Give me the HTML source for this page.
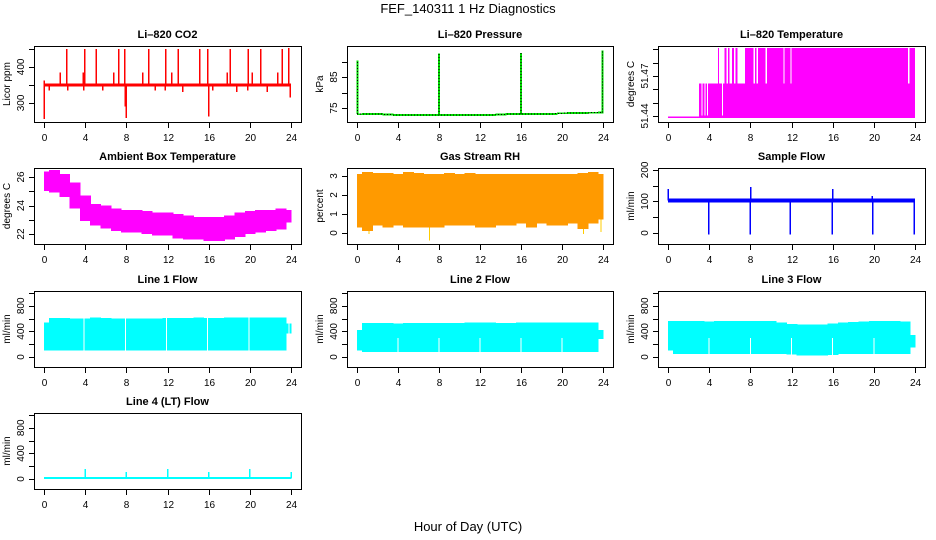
<!DOCTYPE html>
<html><head><meta charset="utf-8"><title>FEF_140311 1 Hz Diagnostics</title>
<style>
html,body{margin:0;padding:0;background:#fff;}
svg{display:block;font-family:"Liberation Sans",Arial,sans-serif;}
</style></head>
<body>
<svg id="fig" width="936" height="540" viewBox="0 0 936 540" xmlns="http://www.w3.org/2000/svg" shape-rendering="crispEdges">
<text x="468" y="13" font-size="13" text-anchor="middle">FEF_140311  1 Hz Diagnostics</text>
<text x="468" y="531" font-size="13" text-anchor="middle">Hour of Day (UTC)</text>
</svg>
<script>
// ---- shared axis data ----
const xTicks = [0,4,8,12,16,20,24];
const hours = [0,1,2,3,4,5,6,7,8,9,10,11,12,13,14,15,16,17,18,19,20,21,22,23,24];

// ---- Li-820 CO2 ----
const co2Base = 350;
const co2BandLo = 346, co2BandHi = 354;
const co2SpikeHours = [0.03,0.05,0.5,1.6,2.2,2.3,3.8,3.85,3.95,5.1,5.7,6.8,7.25,7.85,7.9,8.0,9.6,10.2,10.8,11.8,11.85,12.4,13.05,13.5,15.15,15.9,16.0,16.4,17.8,18.1,18.7,19.8,19.85,20.25,21.05,21.7,22.7,23.15,23.75,23.9];
const co2SpikeValues = [362,255,335,385,450,335,385,335,450,450,335,385,450,450,290,258,385,450,335,335,450,385,450,330,450,450,262,335,385,450,330,335,450,385,450,330,385,450,452,315];

// ---- Li-820 Pressure ----
const presBase = [73.0,73.1,73.1,72.9,72.8,72.8,72.8,72.8,72.8,72.8,72.8,72.8,72.8,72.8,72.9,73.1,73.1,73.1,73.1,73.1,73.3,73.4,73.4,73.5,73.6];
const presSpikeHours = [0.05,8.0,16.0,23.95];
const presSpikeValues = [90.3,92.6,92.8,93.6];

// ---- Li-820 Temperature ----
const tempLevels = [51.4385,51.4645,51.4910];
const tempMidStart = 3.0, tempMidEnd = 24.0;
const tempTopStarts = [4.85,5.5,5.85,6.2,6.55,7.5,8.45,8.75,9.6,11.3,12.0,23.45];
const tempTopEnds   = [4.95,5.7,6.0,6.4,6.75,8.3,8.6,9.5,11.2,11.9,23.3,24.0];
const tempGapHours = [3.3,3.6,3.85,5.3];

// ---- Ambient Box Temperature ----
const ambLo = [25.0,24.9,24.6,23.8,22.9,22.6,22.4,22.2,22.1,22.1,22.0,21.9,21.9,21.7,21.6,21.6,21.5,21.5,21.6,21.8,22.0,22.1,22.2,22.3,22.8];
const ambHi = [26.4,26.5,26.2,25.6,24.7,24.1,24.0,23.8,23.7,23.7,23.6,23.5,23.5,23.4,23.3,23.2,23.2,23.2,23.3,23.5,23.6,23.7,23.7,23.8,23.7];

// ---- Gas Stream RH ----
const rhLo = [0.3,0.1,0.4,0.3,0.4,0.3,0.3,0.3,0.3,0.4,0.4,0.4,0.3,0.3,0.4,0.4,0.5,0.3,0.5,0.4,0.4,0.5,0.2,0.5,0.7];
const rhHi = [3.1,3.2,3.15,3.15,3.1,3.2,3.15,3.1,3.1,3.15,3.1,3.15,3.1,3.1,3.1,3.1,3.1,3.1,3.1,3.1,3.1,3.1,3.15,3.2,3.1];
const rhDipHours = [1.2,7.1,22.1,23.8];
const rhDipValues = [-0.05,-0.4,-0.05,0.05];

// ---- Sample Flow ----
const sfLo = 97, sfHi = 110;
const sfSpikeHours = [0.05,3.95,8.0,8.05,11.9,15.95,16.0,19.85,19.9,23.9];
const sfSpikeValues = [140,-5,-5,145,-5,-5,140,118,-5,-5];

// ---- Line 1 Flow ----
const l1Lo = [100,100,100,100,100,100,100,100,100,100,100,100,100,100,100,100,100,100,100,100,100,100,100,100,370];
const l1Hi = [540,610,610,605,600,615,610,605,600,600,600,605,610,610,610,615,610,610,615,615,615,620,620,615,520];
const l1GapHours = [3.9,7.9,11.9,15.9,19.9,23.8];

// ---- Line 2 Flow ----
const l2Lo = [100,80,80,80,80,80,80,80,80,80,80,80,80,80,80,80,80,80,80,80,80,80,80,80,280];
const l2Hi = [420,530,530,530,525,530,530,530,530,530,535,540,540,540,535,535,540,540,540,540,540,540,540,540,420];
const l2GapHours = [4.0,8.0,12.0,16.0,20.0];

// ---- Line 3 Flow ----
const l3Lo = [100,50,50,50,50,50,50,50,50,50,50,50,40,25,25,25,35,50,50,50,50,50,50,50,150];
const l3Hi = [560,560,560,560,555,560,560,560,560,560,560,540,515,510,510,510,525,540,550,555,560,560,560,555,340];
const l3GapHours = [4.0,8.0,12.0,16.0,20.0];

// ---- Line 4 (LT) Flow ----
const l4Base = 10;
const l4SpikeHours = [4.0,8.0,12.0,16.0,20.0,24.0];
const l4SpikeValues = [160,110,160,110,160,110];

// ---- layout ----
const SVGNS = "http://www.w3.org/2000/svg";
const svg = document.getElementById('fig');
const colX = [[34,301],[347,613],[658,925]];
const rowY = [[46,122],[168,244],[291,367],[413,489]];

function mk(tag, attrs, parent){
  const el = document.createElementNS(SVGNS, tag);
  for (const k in attrs) el.setAttribute(k, attrs[k]);
  parent.appendChild(el);
  return el;
}

function makePanel(cfg){
  const g = mk('g', {}, svg);
  
  
  const [x0,x1] = colX[cfg.col], [y0,y1] = rowY[cfg.row];
  const xs = h => x0 + (h + 0.96) / 25.92 * (x1 - x0);
  const ys = v => y1 - (v - cfg.ylim[0]) / (cfg.ylim[1] - cfg.ylim[0]) * (y1 - y0);
  const p = {g, xs, ys, x0, x1, y0, y1};
  const t = mk('text', {x:(x0+x1)/2, y:y0-8, 'font-size':11, 'font-weight':'bold', 'text-anchor':'middle'}, g);
  t.textContent = cfg.title;
  
  
  const m = mk('g', {}, g);
  
  
  p.m = m;
  cfg.draw(p);
  const box = mk('rect', {x:x0+0.5, y:y0+0.5, width:x1-x0, height:y1-y0, fill:'none', stroke:'#000', 'stroke-width':1}, g);
  
  
  const xa = mk('g', {}, g);
  
  
  xTicks.forEach(h => {
    const x = Math.round(xs(h)) + 0.5;
    mk('line', {x1:x, x2:x, y1:y1+1, y2:y1+6, stroke:'#000'}, xa);
    const tl = mk('text', {x:x, y:y1+19, 'font-size':10, 'text-anchor':'middle'}, xa);
    tl.textContent = h;
    
    
  });
  const ya = mk('g', {}, g);
  
  
  cfg.yTicks.forEach(v => {
    const y = Math.round(ys(v)) + 0.5;
    mk('line', {x1:x0-5, x2:x0, y1:y, y2:y, stroke:'#000'}, ya);
  });
  cfg.yLabels.forEach(v => {
    const y = ys(v);
    const tl = mk('text', {x:0, y:0, 'font-size':10, 'text-anchor':'middle', transform:`translate(${x0-10},${y}) rotate(-90)`}, ya);
    tl.textContent = v;
    
    
  });
  const yl = mk('text', {x:0, y:0, 'font-size':10, 'text-anchor':'middle', transform:`translate(${x0-24},${(y0+y1)/2}) rotate(-90)`}, ya);
  yl.textContent = cfg.ylab;
  
  
}

// step band: each hourly bin drawn as a rectangle
function band(p, hrs, lo, hi, fill, name){
  hrs.forEach((h,i) => {
    const a = Math.max(0, h - 0.5), b = Math.min(24, h + 0.5);
    const el = mk('rect', {x:p.xs(a), y:p.ys(hi[i]), width:p.xs(b)-p.xs(a)+0.6, height:p.ys(lo[i])-p.ys(hi[i]), fill:fill}, p.m);
    
    
  });
}
function vline(p, h, v1, v2, color, w, name){
  const x = p.xs(h);
  const el = mk('line', {x1:x, x2:x, y1:p.ys(v1), y2:p.ys(v2), stroke:color, 'stroke-width':w}, p.m);
  
  
  return el;
}
function rectH(p, h1, h2, v1, v2, fill, name){
  const el = mk('rect', {x:p.xs(h1), y:p.ys(v2), width:Math.max(1,p.xs(h2)-p.xs(h1)), height:Math.max(1,p.ys(v1)-p.ys(v2)), fill:fill}, p.m);
  
  
  return el;
}

const flowTicks = [0,200,400,600,800,1000], flowLabels = [0,400,800];

makePanel({name:'co2', title:'Li\u2013820 CO2', col:0, row:0, ylim:[247,458], yTicks:[300,350,400,450], yLabels:[300,400], ylab:'Licor ppm',
  draw:p => {
    rectH(p, 0, 24, co2BandLo, co2BandHi, '#ff0000', 'co2-baseline');
    co2SpikeHours.forEach((h,i) => vline(p, h, co2Base, co2SpikeValues[i], '#ff0000', 1.5, 'co2-spike'));
  }});

makePanel({name:'pressure', title:'Li\u2013820 Pressure', col:1, row:0, ylim:[70.5,95], yTicks:[75,80,85,90], yLabels:[75,85], ylab:'kPa',
  draw:p => {
    band(p, hours, presBase.map(v => v - 0.3), presBase.map(v => v + 0.3), '#00dd00', 'pressure-baseline');
    const pts = hours.map((h,i) => p.xs(h).toFixed(1) + ',' + p.ys(presBase[i]).toFixed(1)).join(' ');
    const pl = mk('polyline', {points:pts, fill:'none', stroke:'#000', 'stroke-width':1, 'stroke-dasharray':'1 2'}, p.m);
    
    
    presSpikeHours.forEach((h,i) => {
      vline(p, h, presBase[Math.round(h)], presSpikeValues[i], '#00dd00', 2, 'pressure-spike');
      const d = vline(p, h, presBase[Math.round(h)], presSpikeValues[i], '#000', 1, 'pressure-spike-dots');
      d.setAttribute('stroke-dasharray', '1 2');
    });
  }});

makePanel({name:'li820-temperature', title:'Li\u2013820 Temperature', col:2, row:0, ylim:[51.4355,51.4925], yTicks:[51.44,51.45,51.46,51.47,51.48,51.49], yLabels:['51.44','51.47'], ylab:'degrees C',
  draw:p => {
    rectH(p, 0, tempMidStart, tempLevels[0], tempLevels[0] + 0.001, '#ff00ff', 'temperature-low-level');
    rectH(p, tempMidStart, tempMidEnd, tempLevels[0], tempLevels[1], '#ff00ff', 'temperature-mid-band');
    tempTopStarts.forEach((s,i) => rectH(p, s, tempTopEnds[i], tempLevels[0], tempLevels[2], '#ff00ff', 'temperature-top-band'));
    tempGapHours.forEach(h => vline(p, h, tempLevels[0] + 0.002, tempLevels[1], '#ffffff', 1, 'temperature-gap'));
  }});

makePanel({name:'ambient-temperature', title:'Ambient Box Temperature', col:0, row:1, ylim:[21.3,26.63], yTicks:[22,23,24,25,26], yLabels:[22,24,26], ylab:'degrees C',
  draw:p => { band(p, hours, ambLo, ambHi, '#ff00ff', 'ambient-temperature-band'); }});

makePanel({name:'gas-rh', title:'Gas Stream RH', col:1, row:1, ylim:[-0.58,3.42], yTicks:[0,1,2,3], yLabels:[0,1,2,3], ylab:'percent',
  draw:p => {
    band(p, hours, rhLo, rhHi, '#ff9a00', 'rh-band');
    rhDipHours.forEach((h,i) => vline(p, h, rhLo[Math.round(h)], rhDipValues[i], '#ffcc00', 1, 'rh-dip'));
  }});

makePanel({name:'sample-flow', title:'Sample Flow', col:2, row:1, ylim:[-35,206], yTicks:[0,50,100,150,200], yLabels:[0,100,200], ylab:'ml/min',
  draw:p => {
    rectH(p, 0, 24, sfLo, sfHi, '#0000ff', 'sample-flow-band');
    sfSpikeHours.forEach((h,i) => vline(p, h, (sfLo + sfHi) / 2, sfSpikeValues[i], '#0000ff', 1.5, 'sample-flow-spike'));
  }});

makePanel({name:'line1-flow', title:'Line 1 Flow', col:0, row:2, ylim:[-156,1031], yTicks:flowTicks, yLabels:flowLabels, ylab:'ml/min',
  draw:p => {
    band(p, hours, l1Lo, l1Hi, '#00ffff', 'line1-flow-band');
    l1GapHours.forEach(h => vline(p, h, 90, 640, '#ffffff', 1, 'line1-flow-gap'));
  }});

makePanel({name:'line2-flow', title:'Line 2 Flow', col:1, row:2, ylim:[-156,1031], yTicks:flowTicks, yLabels:flowLabels, ylab:'ml/min',
  draw:p => {
    band(p, hours, l2Lo, l2Hi, '#00ffff', 'line2-flow-band');
    l2GapHours.forEach(h => vline(p, h, 70, 300, '#ffffff', 1, 'line2-flow-gap'));
  }});

makePanel({name:'line3-flow', title:'Line 3 Flow', col:2, row:2, ylim:[-156,1031], yTicks:flowTicks, yLabels:flowLabels, ylab:'ml/min',
  draw:p => {
    band(p, hours, l3Lo, l3Hi, '#00ffff', 'line3-flow-band');
    l3GapHours.forEach(h => vline(p, h, 20, 300, '#ffffff', 1, 'line3-flow-gap'));
  }});

makePanel({name:'line4-flow', title:'Line 4 (LT) Flow', col:0, row:3, ylim:[-156,1031], yTicks:flowTicks, yLabels:flowLabels, ylab:'ml/min',
  draw:p => {
    rectH(p, 0, 24, 0, 2 * l4Base + 10, '#00ffff', 'line4-flow-baseline');
    l4SpikeHours.forEach((h,i) => vline(p, h, l4Base, l4SpikeValues[i], '#00ffff', 1.5, 'line4-flow-spike'));
  }});
</script>
</body></html>
